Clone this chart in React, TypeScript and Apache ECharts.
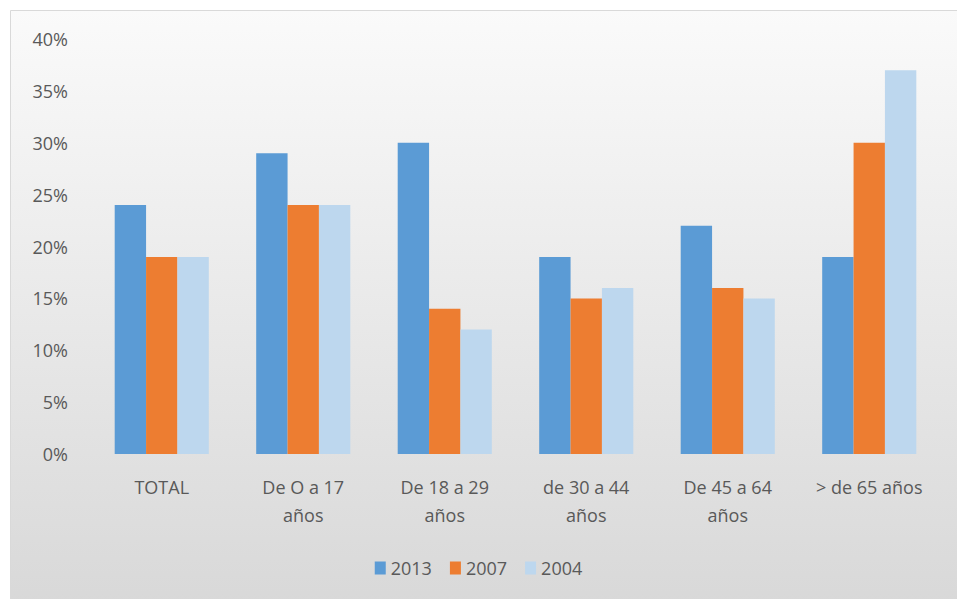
import React, { useEffect, useRef } from "react";
import * as echarts from "echarts";

const categories = [
  "TOTAL",
  "De O a 17\naños",
  "De 18 a 29\naños",
  "de 30 a 44\naños",
  "De 45 a 64\naños",
  "> de 65 años",
];
const seriesNames = ["2013", "2007", "2004"];
const values2013 = [0.24, 0.29, 0.30, 0.19, 0.22, 0.19];
const values2007 = [0.19, 0.24, 0.14, 0.15, 0.16, 0.30];
const values2004 = [0.19, 0.24, 0.12, 0.16, 0.15, 0.37];
const colors = ["#5B9BD5", "#ED7D31", "#BDD7EE"];

const FONT = "'Open Sans', 'Noto Sans', sans-serif";
const TEXT = "#595959";

export default function App() {
  const ref = useRef<HTMLDivElement>(null);
  useEffect(() => {
    if (!ref.current) return;
    const chart = echarts.init(ref.current, undefined, { renderer: "svg" });
    const data = [values2013, values2007, values2004];
    chart.setOption({
      animation: false,
      textStyle: { fontFamily: FONT },
      graphic: [
        {
          type: "rect",
          z: -10,
          silent: true,
          shape: { x: 10.5, y: 10.5, width: 960, height: 600 },
          style: {
            fill: new echarts.graphic.LinearGradient(0, 0, 0, 1, [
              { offset: 0, color: "#fafafa" },
              { offset: 1, color: "#d8d8d8" },
            ]),
            stroke: "#d9d9d9",
            lineWidth: 1,
          },
        },
      ],
      grid: { left: 91, right: 17, top: 39, bottom: 145, containLabel: false },
      legend: {
        data: seriesNames,
        left: "center",
        top: 554,
        itemWidth: 11,
        itemHeight: 13,
        itemGap: 18,
        icon: "rect",
        textStyle: { color: TEXT, fontSize: 18, fontFamily: FONT },
      },
      xAxis: {
        type: "category",
        data: categories,
        axisLine: { show: false },
        axisTick: { show: false },
        axisLabel: {
          color: TEXT,
          fontSize: 18,
          fontFamily: FONT,
          lineHeight: 28,
          margin: 19,
          interval: 0,
        },
      },
      yAxis: {
        type: "value",
        min: 0,
        max: 0.4,
        interval: 0.05,
        axisLine: { show: false },
        axisTick: { show: false },
        splitLine: { show: false },
        axisLabel: {
          color: TEXT,
          fontSize: 18,
          fontFamily: FONT,
          margin: 23,
          formatter: (v: number) => Math.round(v * 100) + "%",
        },
      },
      series: seriesNames.map((name, i) => ({
        name,
        type: "bar",
        data: data[i],
        itemStyle: { color: colors[i] },
        barGap: "0%",
        barCategoryGap: "33.5%",
      })),
    });
    return () => chart.dispose();
  }, []);
  return (
    <div
      ref={ref}
      style={{ position: "fixed", left: 0, top: 0, width: 957, height: 599, background: "#ffffff" }}
    />
  );
}
